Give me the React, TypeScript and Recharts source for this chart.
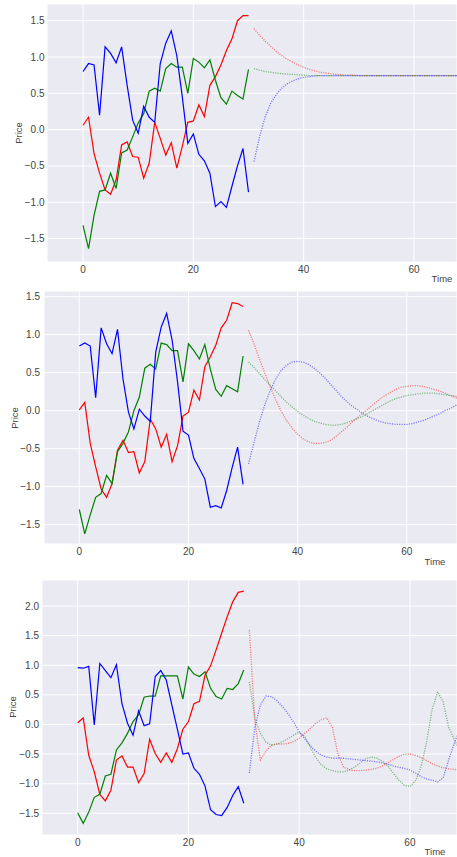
import React from 'react';
import { LineChart, Line, XAxis, YAxis, CartesianGrid } from 'recharts';

// ---------- time axis ----------
const SOLID_T = [0, 1, 2, 3, 4, 5, 6, 7, 8, 9, 10, 11, 12, 13, 14, 15, 16, 17, 18, 19, 20, 21, 22, 23, 24, 25, 26, 27, 28, 29, 30];
const FORECAST_T = [31, 32, 33, 34, 35, 36, 37, 38, 39, 40, 41, 42, 43, 44, 45, 46, 47, 48, 49, 50, 51, 52, 53, 54, 55, 56, 57, 58, 59, 60, 61, 62, 63, 64, 65, 66, 67, 68, 69, 70];
const X_TICKS = [0, 20, 40, 60];

// ---------- panel 1 ----------
const P1_RED = [0.06, 0.17, -0.33, -0.6, -0.83, -0.89, -0.69, -0.21, -0.17, -0.37, -0.38, -0.67, -0.46, 0.1, -0.12, -0.35, -0.18, -0.53, -0.23, 0.1, 0.12, 0.34, 0.18, 0.61, 0.73, 0.89, 1.09, 1.25, 1.5, 1.57, 1.57];
const P1_GREEN = [-1.32, -1.64, -1.18, -0.85, -0.83, -0.6, -0.81, -0.32, -0.28, -0.1, 0.09, 0.22, 0.53, 0.57, 0.53, 0.84, 0.91, 0.86, 0.86, 0.5, 0.98, 0.93, 0.85, 0.96, 0.68, 0.44, 0.35, 0.53, 0.47, 0.42, 0.83];
const P1_BLUE = [0.8, 0.91, 0.89, 0.2, 1.14, 1.05, 0.92, 1.14, 0.61, 0.13, -0.05, 0.32, 0.17, 0.1, 0.91, 1.19, 1.36, 1.02, 0.45, -0.19, -0.06, -0.34, -0.43, -0.6, -1.06, -0.99, -1.07, -0.78, -0.5, -0.26, -0.86];
const P1_RED_F = [1.39, 1.3, 1.22, 1.15, 1.08, 1.02, 0.97, 0.93, 0.89, 0.86, 0.83, 0.81, 0.79, 0.78, 0.77, 0.76, 0.755, 0.75, 0.75, 0.745, 0.745, 0.745, 0.745, 0.745, 0.745, 0.745, 0.745, 0.745, 0.745, 0.745, 0.745, 0.745, 0.745, 0.745, 0.745, 0.745, 0.745, 0.745, 0.745, 0.745];
const P1_GREEN_F = [0.84, 0.82, 0.8, 0.79, 0.78, 0.77, 0.765, 0.76, 0.755, 0.75, 0.745, 0.745, 0.745, 0.745, 0.745, 0.745, 0.745, 0.745, 0.745, 0.745, 0.745, 0.745, 0.745, 0.745, 0.745, 0.745, 0.745, 0.745, 0.745, 0.745, 0.745, 0.745, 0.745, 0.745, 0.745, 0.745, 0.745, 0.745, 0.745, 0.745];
const P1_BLUE_F = [-0.44, -0.1, 0.17, 0.36, 0.48, 0.57, 0.63, 0.67, 0.7, 0.72, 0.73, 0.74, 0.745, 0.745, 0.745, 0.745, 0.745, 0.745, 0.745, 0.745, 0.745, 0.745, 0.745, 0.745, 0.745, 0.745, 0.745, 0.745, 0.745, 0.745, 0.745, 0.745, 0.745, 0.745, 0.745, 0.745, 0.745, 0.745, 0.745, 0.745];
const P1_Y_TICKS = [-1.5, -1, -0.5, 0, 0.5, 1, 1.5];

// ---------- panel 2 ----------
const P2_RED = [0.01, 0.11, -0.43, -0.74, -1.03, -1.14, -0.96, -0.52, -0.39, -0.55, -0.54, -0.82, -0.67, -0.11, -0.24, -0.48, -0.31, -0.67, -0.46, -0.07, -0.02, 0.27, 0.14, 0.58, 0.71, 0.86, 1.09, 1.19, 1.42, 1.41, 1.37];
const P2_GREEN = [-1.3, -1.62, -1.37, -1.14, -1.09, -0.85, -0.96, -0.54, -0.43, -0.28, 0.0, 0.18, 0.56, 0.61, 0.55, 0.89, 0.87, 0.79, 0.79, 0.38, 0.88, 0.79, 0.68, 0.87, 0.55, 0.28, 0.19, 0.33, 0.29, 0.25, 0.72];
const P2_BLUE = [0.85, 0.89, 0.85, 0.17, 1.09, 0.88, 0.75, 1.07, 0.42, -0.02, -0.24, 0.02, -0.07, -0.14, 0.77, 1.1, 1.28, 0.93, 0.38, -0.27, -0.32, -0.63, -0.76, -0.9, -1.27, -1.25, -1.28, -1.05, -0.75, -0.48, -0.97];
const P2_RED_F = [1.06, 0.88, 0.68, 0.49, 0.31, 0.14, -0.01, -0.13, -0.23, -0.31, -0.37, -0.41, -0.43, -0.43, -0.42, -0.39, -0.34, -0.28, -0.22, -0.15, -0.09, -0.03, 0.03, 0.09, 0.15, 0.2, 0.24, 0.28, 0.31, 0.32, 0.33, 0.33, 0.32, 0.3, 0.28, 0.26, 0.23, 0.2, 0.17, 0.14];
const P2_GREEN_F = [0.64, 0.57, 0.49, 0.41, 0.33, 0.26, 0.18, 0.11, 0.05, -0.01, -0.06, -0.1, -0.14, -0.16, -0.18, -0.19, -0.19, -0.18, -0.16, -0.13, -0.1, -0.07, -0.03, 0.01, 0.05, 0.09, 0.13, 0.16, 0.18, 0.2, 0.21, 0.22, 0.23, 0.23, 0.23, 0.22, 0.21, 0.2, 0.19, 0.18];
const P2_BLUE_F = [-0.7, -0.42, -0.15, 0.08, 0.27, 0.42, 0.53, 0.6, 0.64, 0.65, 0.64, 0.61, 0.56, 0.5, 0.43, 0.35, 0.27, 0.19, 0.12, 0.06, 0.01, -0.04, -0.08, -0.11, -0.14, -0.16, -0.17, -0.18, -0.18, -0.18, -0.17, -0.15, -0.13, -0.1, -0.07, -0.04, 0.0, 0.03, 0.07, 0.1];
const P2_Y_TICKS = [-1.5, -1, -0.5, 0, 0.5, 1, 1.5];

// ---------- panel 3 ----------
const P3_RED = [0.03, 0.11, -0.52, -0.8, -1.18, -1.29, -1.11, -0.6, -0.53, -0.72, -0.72, -0.98, -0.83, -0.25, -0.49, -0.64, -0.48, -0.64, -0.41, -0.08, 0.05, 0.35, 0.39, 0.83, 0.99, 1.26, 1.54, 1.82, 2.07, 2.23, 2.25];
const P3_GREEN = [-1.49, -1.67, -1.48, -1.23, -1.18, -0.87, -0.84, -0.43, -0.31, -0.15, 0.05, 0.16, 0.46, 0.48, 0.48, 0.82, 0.82, 0.82, 0.82, 0.43, 0.97, 0.85, 0.81, 0.89, 0.61, 0.47, 0.43, 0.61, 0.59, 0.69, 0.92];
const P3_BLUE = [0.96, 0.95, 0.98, -0.01, 1.03, 0.91, 0.79, 1.01, 0.35, 0.02, -0.18, 0.23, -0.02, 0.01, 0.81, 0.91, 0.75, 0.33, -0.08, -0.5, -0.48, -0.74, -0.84, -1.04, -1.44, -1.52, -1.54, -1.4, -1.2, -1.05, -1.33];
const P3_RED_F = [1.59, 0.05, -0.6, -0.45, -0.35, -0.33, -0.33, -0.32, -0.29, -0.23, -0.15, -0.07, 0.02, 0.08, 0.11, -0.05, -0.5, -0.72, -0.76, -0.78, -0.78, -0.77, -0.76, -0.74, -0.7, -0.65, -0.59, -0.54, -0.5, -0.5, -0.52, -0.56, -0.61, -0.66, -0.7, -0.73, -0.75, -0.76, -0.77, -0.77];
const P3_GREEN_F = [0.72, 0.1, -0.15, -0.3, -0.35, -0.33, -0.29, -0.24, -0.18, -0.13, -0.2, -0.38, -0.56, -0.68, -0.75, -0.78, -0.8, -0.8, -0.77, -0.72, -0.65, -0.58, -0.55, -0.57, -0.62, -0.7, -0.82, -0.94, -1.03, -1.05, -0.95, -0.72, -0.3, 0.25, 0.55, 0.38, -0.05, -0.25, -0.45, -0.55];
const P3_BLUE_F = [-0.82, -0.05, 0.33, 0.48, 0.47, 0.4, 0.3, 0.18, 0.04, -0.12, -0.24, -0.36, -0.45, -0.52, -0.55, -0.57, -0.57, -0.57, -0.58, -0.59, -0.6, -0.61, -0.62, -0.63, -0.65, -0.67, -0.7, -0.72, -0.74, -0.77, -0.82, -0.88, -0.92, -0.94, -0.97, -0.9, -0.6, -0.32, -0.08, 0.1];
const P3_Y_TICKS = [-1.5, -1, -0.5, 0, 0.5, 1, 1.5, 2];

// ---------- styles ----------
const RED = '#ff0000';
const GREEN = '#008000';
const BLUE = '#0000ff';
const BG = '#EAEAF2';
const TEXT = '#444444';
const FONT = '"Liberation Sans", Arial, sans-serif';

type Row = { t: number; r?: number; g?: number; b?: number; rf?: number; gf?: number; bf?: number };

function buildRows(red: number[], green: number[], blue: number[], redF: number[], greenF: number[], blueF: number[]): Row[] {
  const rows: Row[] = [];
  SOLID_T.forEach((t, i) => rows.push({ t, r: red[i], g: green[i], b: blue[i] }));
  FORECAST_T.forEach((t, i) => rows.push({ t, rf: redF[i], gf: greenF[i], bf: blueF[i] }));
  return rows;
}

const fmtY = (v: number) => (v < 0 ? '\u2212' : '') + Math.abs(v).toFixed(1);

type PanelProps = {
  top: number;
  height: number;
  marginTop: number;
  yWidth: number;
  xHeight: number;
  yTickMargin: number;
  xDomain: [number, number];
  yDomain: [number, number];
  yTicks: number[];
  rows: Row[];
  priceX: number;
  priceY: number;
  timeX: number;
  timeY: number;
};

function Panel(p: PanelProps) {
  const tickStyle = { fontSize: 10, fill: TEXT, fontFamily: FONT };
  const solid = { type: 'linear' as const, dot: false, isAnimationActive: false, strokeWidth: 1.2, connectNulls: false };
  const dotted = { type: 'linear' as const, dot: false, isAnimationActive: false, strokeWidth: 1.3, strokeDasharray: '1.1 1.3', strokeOpacity: 0.5, connectNulls: false };
  return (
    <>
      <div style={{ position: 'absolute', left: 0, top: p.top }}>
        <LineChart width={457} height={p.height} data={p.rows} margin={{ top: p.marginTop, right: 0, bottom: 0, left: 0 }}>
          <CartesianGrid stroke="#ffffff" strokeWidth={1} fill={BG} fillOpacity={1} />
          <XAxis
            type="number"
            dataKey="t"
            domain={p.xDomain}
            allowDataOverflow
            ticks={X_TICKS}
            interval={0}
            axisLine={false}
            tickLine={false}
            tickSize={0}
            tickMargin={4}
            height={p.xHeight}
            tick={tickStyle}
          />
          <YAxis
            type="number"
            domain={p.yDomain}
            allowDataOverflow
            ticks={p.yTicks}
            interval={0}
            axisLine={false}
            tickLine={false}
            tickSize={0}
            tickMargin={p.yTickMargin}
            width={p.yWidth}
            tick={tickStyle}
            tickFormatter={fmtY}
          />
          <Line dataKey="r" stroke={RED} {...solid} />
          <Line dataKey="g" stroke={GREEN} {...solid} />
          <Line dataKey="b" stroke={BLUE} {...solid} />
          <Line dataKey="rf" stroke={RED} {...dotted} />
          <Line dataKey="gf" stroke={GREEN} {...dotted} />
          <Line dataKey="bf" stroke={BLUE} {...dotted} />
        </LineChart>
      </div>
      <div
        style={{
          position: 'absolute',
          left: p.priceX,
          top: p.priceY,
          transform: 'translate(-50%, -50%) rotate(-90deg)',
          fontFamily: FONT,
          fontSize: 9.5,
          color: TEXT,
          whiteSpace: 'nowrap',
          lineHeight: 1,
        }}
      >
        Price
      </div>
      <div
        style={{
          position: 'absolute',
          left: p.timeX,
          top: p.timeY,
          transform: 'translate(-50%, -50%)',
          fontFamily: FONT,
          fontSize: 9.5,
          color: TEXT,
          whiteSpace: 'nowrap',
          lineHeight: 1,
        }}
      >
        Time
      </div>
    </>
  );
}

export default function App() {
  const rows1 = buildRows(P1_RED, P1_GREEN, P1_BLUE, P1_RED_F, P1_GREEN_F, P1_BLUE_F);
  const rows2 = buildRows(P2_RED, P2_GREEN, P2_BLUE, P2_RED_F, P2_GREEN_F, P2_BLUE_F);
  const rows3 = buildRows(P3_RED, P3_GREEN, P3_BLUE, P3_RED_F, P3_GREEN_F, P3_BLUE_F);
  return (
    <div style={{ position: 'absolute', left: 0, top: 0, width: 457, height: 857, overflow: 'hidden', background: '#ffffff' }}>
      <Panel
        top={0}
        height={290}
        marginTop={4}
        yWidth={47}
        xHeight={28}
        yTickMargin={2.5}
        xDomain={[-6.53, 67.8]}
        yDomain={[-1.823, 1.73]}
        yTicks={P1_Y_TICKS}
        rows={rows1}
        priceX={18.5}
        priceY={133}
        timeX={442}
        timeY={279}
      />
      <Panel
        top={285}
        height={290}
        marginTop={6}
        yWidth={44}
        xHeight={31}
        yTickMargin={4}
        xDomain={[-6.47, 69.2]}
        yDomain={[-1.754, 1.575]}
        yTicks={P2_Y_TICKS}
        rows={rows2}
        priceX={15}
        priceY={418}
        timeX={435}
        timeY={562}
      />
      <Panel
        top={572}
        height={285}
        marginTop={8}
        yWidth={42}
        xHeight={22}
        yTickMargin={3}
        xDomain={[-6.44, 68.5]}
        yDomain={[-1.866, 2.439]}
        yTicks={P3_Y_TICKS}
        rows={rows3}
        priceX={13.3}
        priceY={707}
        timeX={435}
        timeY={852}
      />
    </div>
  );
}
